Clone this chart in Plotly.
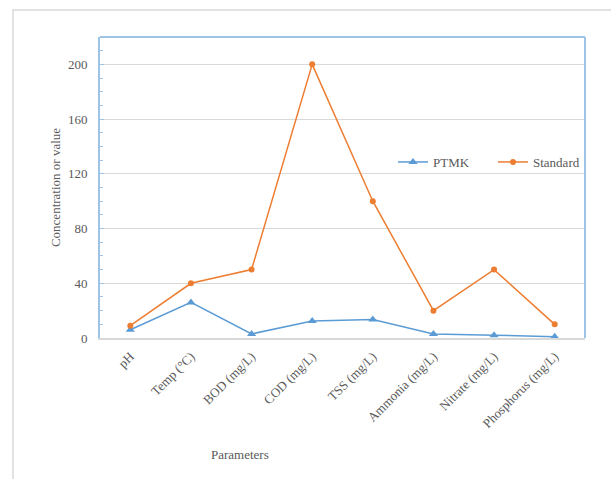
import plotly.graph_objects as go

# Water-quality parameters measured at PTMK versus discharge standard
parameters = ["pH", "Temp (°C)", "BOD (mg/L)", "COD (mg/L)", "TSS (mg/L)",
              "Ammonia (mg/L)", "Nitrate (mg/L)", "Phosphorus (mg/L)"]
ptmk = [6, 26, 3, 12.5, 13.5, 3, 2, 1]
standard = [9, 40, 50, 200, 100, 20, 50, 10]
y_ticks = [0, 40, 80, 120, 160, 200]

text_color = "#595959"
font_family = "Liberation Serif, Times New Roman, serif"

fig = go.Figure()
fig.add_trace(go.Scatter(
    x=parameters, y=ptmk, name="PTMK", mode="lines+markers",
    line=dict(color="#5B9BD5", width=1.5),
    marker=dict(symbol="triangle-up", size=8, color="#5B9BD5"),
))
fig.add_trace(go.Scatter(
    x=parameters, y=standard, name="Standard", mode="lines+markers",
    line=dict(color="#ED7D31", width=1.5),
    marker=dict(symbol="circle", size=6, color="#ED7D31"),
))

W, H = 611, 479
ml, mr, mt, mb = 100, 26, 37, 141
pw, ph = W - ml - mr, H - mt - mb

def px(x):
    return (x - ml) / pw

def py(y):
    return (H - mb - y) / ph

fig.update_layout(
    width=W, height=H,
    margin=dict(l=ml, r=mr, t=mt, b=mb, autoexpand=False),
    paper_bgcolor="white", plot_bgcolor="white",
    font=dict(family=font_family, size=13, color=text_color),
    showlegend=True,
    legend=dict(
        orientation="h", x=px(393), y=py(162), xanchor="left", yanchor="middle",
        bgcolor="rgba(0,0,0,0)", font=dict(size=13, color=text_color),
        itemwidth=30, entrywidth=55, tracegroupgap=0,
    ),
    shapes=[
        # outer chart frame
        dict(type="rect", xref="paper", yref="paper",
             x0=px(13), x1=px(640), y0=py(520), y1=py(10),
             line=dict(color="#D9D9D9", width=1.5), layer="below"),
        # plot-area frame: blue on top/right
        dict(type="line", xref="paper", yref="paper", x0=0, x1=1, y0=1, y1=1,
             line=dict(color="#9DC3E6", width=2)),
        dict(type="line", xref="paper", yref="paper", x0=1, x1=1, y0=0, y1=1,
             line=dict(color="#9DC3E6", width=2)),
    ],
    annotations=[
        dict(text="Parameters", xref="paper", yref="paper",
             x=px(240), y=py(454), xanchor="center", yanchor="middle",
             showarrow=False, font=dict(size=13, color=text_color)),
    ],
)

fig.update_xaxes(
    type="category", range=[-0.5, 7.5], tickangle=-45,
    showgrid=False, showline=True, linecolor="#D9D9D9", linewidth=1.5,
    ticks="", ticklabelstandoff=4, tickfont=dict(size=13, color=text_color),
)
fig.update_yaxes(
    range=[0, 220], tickvals=y_ticks,
    showgrid=True, gridcolor="#D9D9D9", gridwidth=1,
    showline=True, linecolor="#9DC3E6", linewidth=2,
    ticks="inside", ticklen=4, tickcolor="#9DC3E6",
    minor=dict(dtick=10, ticks="inside", ticklen=3, tickcolor="#9DC3E6", showgrid=False),
    zeroline=False, ticklabelstandoff=8,
    title=dict(text="Concentration or value", standoff=4,
               font=dict(size=13, color=text_color)),
    tickfont=dict(size=13, color=text_color),
)

fig.write_html("out.html")
